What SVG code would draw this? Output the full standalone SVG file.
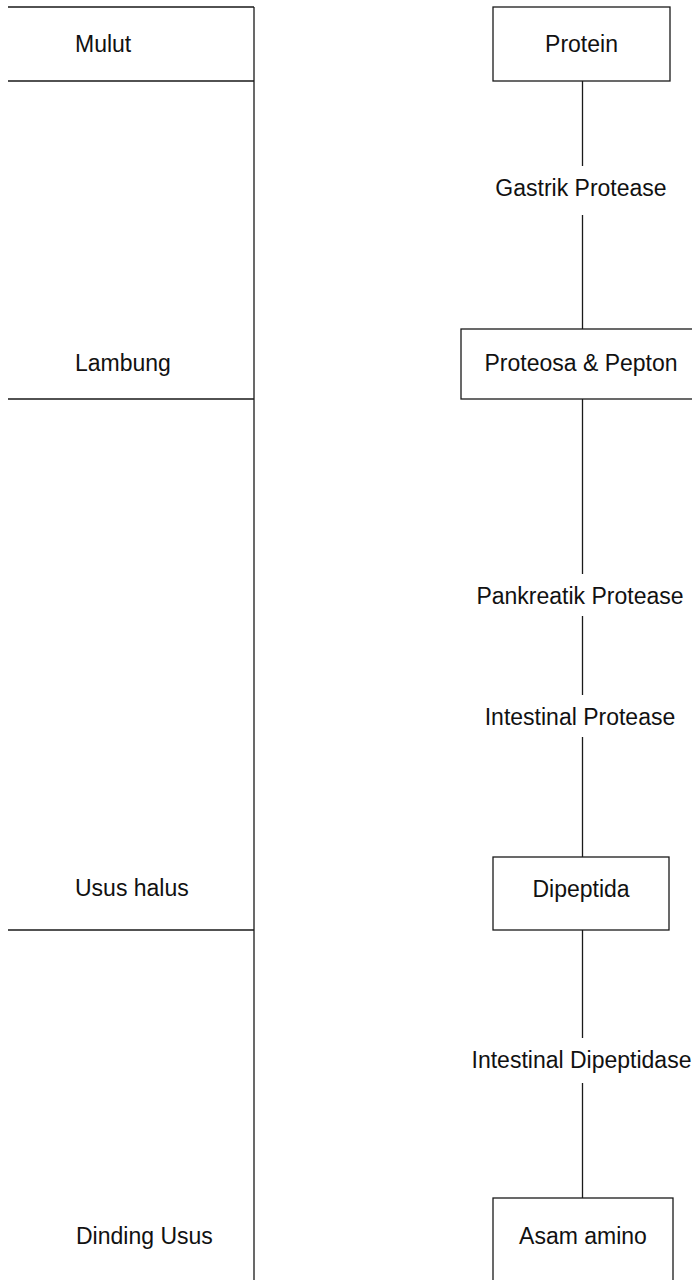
<svg xmlns="http://www.w3.org/2000/svg" width="692" height="1280" viewBox="0 0 692 1280">
<style>
.ln{stroke:#1a1a1a;stroke-width:1.3;fill:none}
.box{stroke:#1a1a1a;stroke-width:1.3;fill:#fff}
text{font-family:"Liberation Sans",Arial,sans-serif;font-size:23px;fill:#111}
.c{text-anchor:middle}
</style>
<rect width="692" height="1280" fill="#fff"/>
<g id="organs">
<path class="ln" d="M8 7H254M8 81H254M8 399H254M8 930H254M254 7V1280"/>
</g>
<g id="mulut"><text x="75" y="52">Mulut</text></g>
<g id="lambung"><text x="75" y="371">Lambung</text></g>
<g id="usus-halus"><text x="75" y="896">Usus halus</text></g>
<g id="dinding-usus"><text x="76" y="1244">Dinding Usus</text></g>
<g id="connectors">
<path class="ln" d="M582.5 81V166M582.5 215V329M582.5 399V574M582.5 616V695M582.5 737V857M582.5 930V1038M582.5 1083V1198"/>
<text class="c" x="581" y="196">Gastrik Protease</text>
<text class="c" x="580" y="604">Pankreatik Protease</text>
<text class="c" x="580" y="725">Intestinal Protease</text>
<text class="c" x="581.5" y="1068">Intestinal Dipeptidase</text>
</g>
<g id="protein"><rect class="box" x="493" y="7" width="177" height="74"/><text class="c" x="581.5" y="52">Protein</text></g>
<g id="proteosa"><rect class="box" x="461" y="329" width="240" height="70"/><text class="c" x="581" y="371">Proteosa &amp; Pepton</text></g>
<g id="dipeptida"><rect class="box" x="493" y="857" width="176" height="73"/><text class="c" x="581" y="897">Dipeptida</text></g>
<g id="asam-amino"><rect class="box" x="493" y="1198" width="180" height="90"/><text class="c" x="583" y="1244">Asam amino</text></g>
</svg>
